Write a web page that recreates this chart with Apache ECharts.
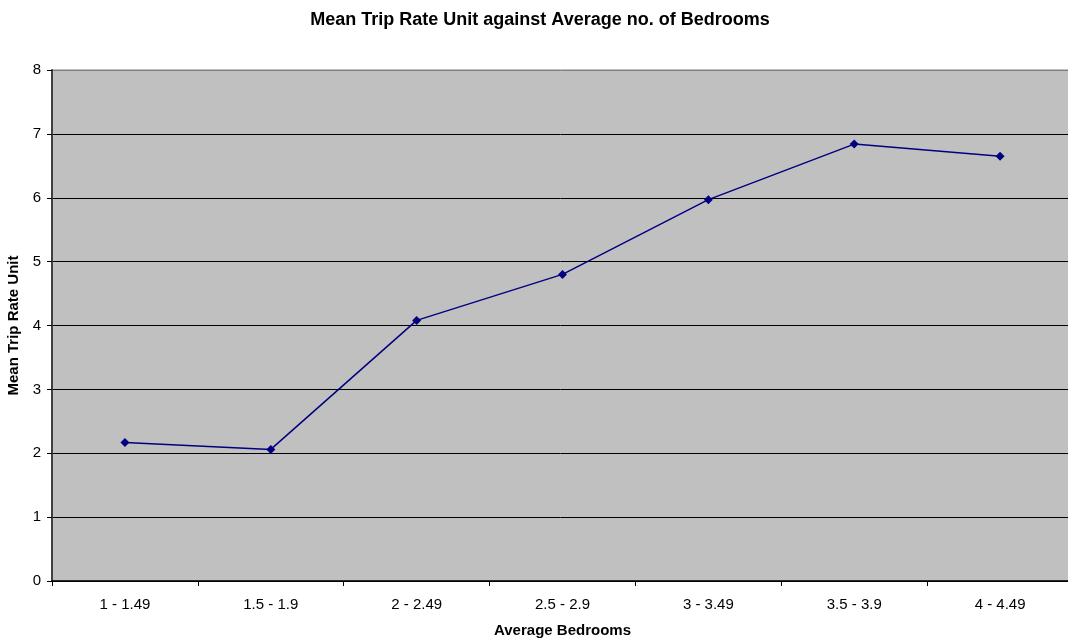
<!DOCTYPE html>
<html><head><meta charset="utf-8">
<script src="https://cdn.jsdelivr.net/npm/echarts@6/dist/echarts.min.js"></script>
<style>html,body{margin:0;padding:0;background:#fff;}#c{width:1068px;height:641px;}</style>
</head><body><div id="c"></div>
<script>
const categories = ['1 - 1.49','1.5 - 1.9','2 - 2.49','2.5 - 2.9','3 - 3.49','3.5 - 3.9','4 - 4.49'];
const meanTripRate = [2.17, 2.06, 4.08, 4.80, 5.97, 6.84, 6.65];
const yTicks = [0,1,2,3,4,5,6,7,8];

const chart = echarts.init(document.getElementById('c'), null, {renderer:'canvas'});
const font = 'Liberation Sans, Arial, sans-serif';
const splitColors = yTicks.map((v,i)=> i===yTicks.length-1 ? '#808080' : '#000000');
chart.setOption({
  animation:false,
  title:{text:'Mean Trip Rate Unit against Average no. of Bedrooms', left:535, textAlign:'center', top:6,
    textStyle:{fontFamily:font, fontSize:18, fontWeight:'bold', color:'#000'}},
  grid:{left:52, right:-5, top:70, bottom:60, outerBoundsMode:'none', containLabel:false,
    show:true, backgroundColor:'#c0c0c0', borderColor:'#808080', borderWidth:1},
  xAxis:{type:'category', data:categories, boundaryGap:true,
    name:'Average Bedrooms', nameLocation:'middle', nameGap:42,
    nameTextStyle:{fontFamily:font, fontSize:15, fontWeight:'bold', color:'#000'},
    axisLine:{lineStyle:{color:'#000', width:1.5}},
    axisTick:{show:true, length:5, lineStyle:{color:'#000'}},
    axisLabel:{fontFamily:font, fontSize:15, color:'#000', margin:16},
    splitLine:{show:false}},
  yAxis:{type:'value', min:yTicks[0], max:yTicks[yTicks.length-1], interval:1,
    name:'Mean Trip Rate Unit', nameLocation:'middle', nameGap:26,
    nameTextStyle:{fontFamily:font, fontSize:15, fontWeight:'bold', color:'#000'},
    axisLine:{show:true, lineStyle:{color:'#404040', width:2}},
    axisTick:{show:true, length:5, lineStyle:{color:'#000'}},
    axisLabel:{fontFamily:font, fontSize:15, color:'#000', margin:11},
    splitLine:{show:true, lineStyle:{color:splitColors, width:1}}},
  series:[{type:'line', data:meanTripRate, symbol:'diamond', symbolSize:9,
    lineStyle:{color:'#000080', width:1.5}, itemStyle:{color:'#000080'}}]
});
</script></body></html>
